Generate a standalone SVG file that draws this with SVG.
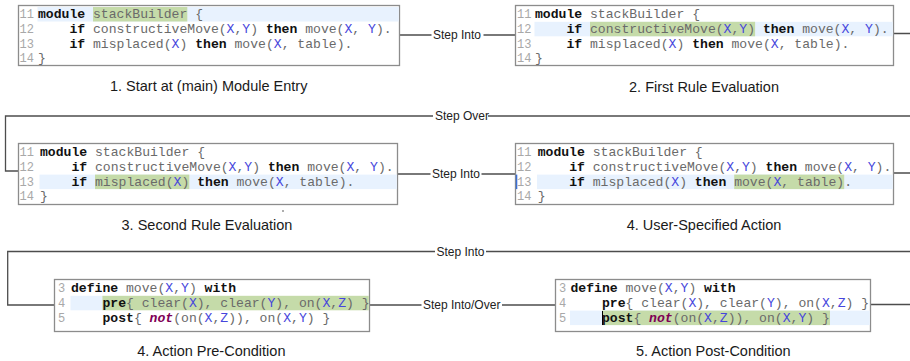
<svg xmlns="http://www.w3.org/2000/svg" width="910" height="361" viewBox="0 0 910 361">
<style>
.bg{fill:#fff}
.box{fill:#fff;stroke:#8c8c8c;stroke-width:1.3}
.code{font-family:"Liberation Mono","Courier New",monospace;font-size:13.1px;fill:#6a6a6a}
.k{font-weight:bold;fill:#111}
.v{fill:#4646dc}
.n{font-weight:bold;font-style:italic;fill:#7f0055}
.ln{fill:#a8a8a8;font-size:12px}
.cur{fill:#e8f2fe}
.sel{fill:#c5dba9}
.cap{font-family:"Liberation Sans",Arial,sans-serif;font-size:14.5px;fill:#1a1a1a;text-anchor:middle}
.lbl{font-family:"Liberation Sans",Arial,sans-serif;font-size:12px;fill:#222}
.conn{fill:none;stroke:#4d4d4d;stroke-width:1.3}
</style>
<rect class="bg" x="0" y="0" width="910" height="361"/>

<g id="connectors">
<path class="conn" d="M399.5,35 H431.5 M483.5,35 H515.5"/>
<text class="lbl" x="433" y="39">Step Into</text>
<path class="conn" d="M893.5,33.5 H915 V116 H488 M433,116 H5.5 V171 H18.5"/>
<text class="lbl" x="435" y="120">Step Over</text>
<path class="conn" d="M397.5,174 H430.5 M481.5,174 H515.5"/>
<text class="lbl" x="432" y="178">Step Into</text>
<path class="conn" d="M893.5,173 H915 V251.5 H486 M435,251.5 H7.7 V305 H54.5"/>
<text class="lbl" x="436.5" y="255.5">Step Into</text>
<path class="conn" d="M369.5,305 H421.5 M502,305 H555.5"/>
<text class="lbl" x="423" y="309">Step Into/Over</text>
<path class="conn" d="M870.5,304.5 H915"/>
</g>

<g id="node1">
<rect class="box" x="18.5" y="5.5" width="381" height="60"/>
<rect class="cur" x="37.5" y="7" width="361.3" height="14.5"/>
<rect class="sel" x="93" y="7" width="94.3" height="14.5"/>
<text class="code ln" x="19.5" y="18">11</text>
<text class="code ln" x="19.5" y="32.8">12</text>
<text class="code ln" x="19.5" y="47.6">13</text>
<text class="code ln" x="19.5" y="62.4">14</text>
<text class="code" x="38" y="18" xml:space="preserve"><tspan class="k">module</tspan> stackBuilder {</text>
<text class="code" x="38" y="32.8" xml:space="preserve">    <tspan class="k">if</tspan> constructiveMove(<tspan class="v">X</tspan>,<tspan class="v">Y</tspan>) <tspan class="k">then</tspan> move(<tspan class="v">X</tspan>, <tspan class="v">Y</tspan>).</text>
<text class="code" x="38" y="47.6" xml:space="preserve">    <tspan class="k">if</tspan> misplaced(<tspan class="v">X</tspan>) <tspan class="k">then</tspan> move(<tspan class="v">X</tspan>, table).</text>
<text class="code" x="38" y="62.4">}</text>
<text class="cap" x="208.7" y="91">1. Start at (main) Module Entry</text>
</g>

<g id="node2">
<rect class="box" x="515.5" y="5.5" width="378" height="60"/>
<rect class="cur" x="534.5" y="21.8" width="358.3" height="14.5"/>
<rect class="sel" x="590" y="21.8" width="165.1" height="14.5"/>
<text class="code ln" x="517" y="18">11</text>
<text class="code ln" x="517" y="32.8">12</text>
<text class="code ln" x="517" y="47.6">13</text>
<text class="code ln" x="517" y="62.4">14</text>
<text class="code" x="535" y="18" xml:space="preserve"><tspan class="k">module</tspan> stackBuilder {</text>
<text class="code" x="535" y="32.8" xml:space="preserve">    <tspan class="k">if</tspan> constructiveMove(<tspan class="v">X</tspan>,<tspan class="v">Y</tspan>) <tspan class="k">then</tspan> move(<tspan class="v">X</tspan>, <tspan class="v">Y</tspan>).</text>
<text class="code" x="535" y="47.6" xml:space="preserve">    <tspan class="k">if</tspan> misplaced(<tspan class="v">X</tspan>) <tspan class="k">then</tspan> move(<tspan class="v">X</tspan>, table).</text>
<text class="code" x="535" y="62.4">}</text>
<text class="cap" x="704" y="91.5">2. First Rule Evaluation</text>
</g>

<g id="node3">
<rect class="box" x="18.5" y="143.5" width="379" height="61"/>
<rect class="cur" x="39.5" y="174.6" width="357.3" height="14.5"/>
<rect class="sel" x="95" y="174.6" width="94.3" height="14.5"/>
<text class="code ln" x="19.5" y="156">11</text>
<text class="code ln" x="19.5" y="170.8">12</text>
<text class="code ln" x="19.5" y="185.6">13</text>
<text class="code ln" x="19.5" y="200.4">14</text>
<text class="code" x="40" y="156" xml:space="preserve"><tspan class="k">module</tspan> stackBuilder {</text>
<text class="code" x="40" y="170.8" xml:space="preserve">    <tspan class="k">if</tspan> constructiveMove(<tspan class="v">X</tspan>,<tspan class="v">Y</tspan>) <tspan class="k">then</tspan> move(<tspan class="v">X</tspan>, <tspan class="v">Y</tspan>).</text>
<text class="code" x="40" y="185.6" xml:space="preserve">    <tspan class="k">if</tspan> misplaced(<tspan class="v">X</tspan>) <tspan class="k">then</tspan> move(<tspan class="v">X</tspan>, table).</text>
<text class="code" x="40" y="200.4">}</text>
<circle cx="283" cy="211" r="0.8" fill="#444"/>
<text class="cap" x="207" y="229.5">3. Second Rule Evaluation</text>
</g>

<g id="node4">
<rect class="box" x="515.5" y="143.5" width="378" height="61"/>
<rect class="cur" x="537" y="174.6" width="355.8" height="14.5"/>
<rect class="sel" x="734.2" y="174.6" width="110" height="14.5"/>
<rect x="515.8" y="174.6" width="1.5" height="14.5" fill="#3a6fd6"/>
<text class="code ln" x="517" y="156">11</text>
<text class="code ln" x="517" y="170.8">12</text>
<text class="code ln" x="517" y="185.6">13</text>
<text class="code ln" x="517" y="200.4">14</text>
<text class="code" x="537.7" y="156" xml:space="preserve"><tspan class="k">module</tspan> stackBuilder {</text>
<text class="code" x="537.7" y="170.8" xml:space="preserve">    <tspan class="k">if</tspan> constructiveMove(<tspan class="v">X</tspan>,<tspan class="v">Y</tspan>) <tspan class="k">then</tspan> move(<tspan class="v">X</tspan>, <tspan class="v">Y</tspan>).</text>
<text class="code" x="537.7" y="185.6" xml:space="preserve">    <tspan class="k">if</tspan> misplaced(<tspan class="v">X</tspan>) <tspan class="k">then</tspan> move(<tspan class="v">X</tspan>, table).</text>
<text class="code" x="537.7" y="200.4">}</text>
<text class="cap" x="704" y="229.5">4. User-Specified Action</text>
</g>

<g id="node5">
<rect class="box" x="54.5" y="279.5" width="315" height="52"/>
<rect class="cur" x="70.5" y="295.8" width="32" height="14.5"/>
<rect class="sel" x="102.4" y="295.8" width="266.4" height="14.5"/>
<text class="code ln" x="58" y="292">3</text>
<text class="code ln" x="58" y="306.8">4</text>
<text class="code ln" x="58" y="321.6">5</text>
<text class="code" x="71" y="292" xml:space="preserve"><tspan class="k">define</tspan> move(<tspan class="v">X</tspan>,<tspan class="v">Y</tspan>) <tspan class="k">with</tspan></text>
<text class="code" x="71" y="306.8" xml:space="preserve">    <tspan class="k">pre</tspan>{ clear(<tspan class="v">X</tspan>), clear(<tspan class="v">Y</tspan>), on(<tspan class="v">X</tspan>,<tspan class="v">Z</tspan>) }</text>
<text class="code" x="71" y="321.6" xml:space="preserve">    <tspan class="k">post</tspan>{ <tspan class="n">not</tspan>(on(<tspan class="v">X</tspan>,<tspan class="v">Z</tspan>)), on(<tspan class="v">X</tspan>,<tspan class="v">Y</tspan>) }</text>
<text class="cap" x="211.3" y="355.5">4. Action Pre-Condition</text>
</g>

<g id="node6">
<rect class="box" x="555.5" y="279.5" width="315" height="52"/>
<rect class="cur" x="570" y="310.6" width="299.8" height="14.5"/>
<rect class="sel" x="602" y="310.6" width="228" height="14.5"/>
<line x1="602.5" y1="311" x2="602.5" y2="325" stroke="#000" stroke-width="1"/>
<text class="code ln" x="559" y="292">3</text>
<text class="code ln" x="559" y="306.8">4</text>
<text class="code ln" x="559" y="321.6">5</text>
<text class="code" x="570.5" y="292" xml:space="preserve"><tspan class="k">define</tspan> move(<tspan class="v">X</tspan>,<tspan class="v">Y</tspan>) <tspan class="k">with</tspan></text>
<text class="code" x="570.5" y="306.8" xml:space="preserve">    <tspan class="k">pre</tspan>{ clear(<tspan class="v">X</tspan>), clear(<tspan class="v">Y</tspan>), on(<tspan class="v">X</tspan>,<tspan class="v">Z</tspan>) }</text>
<text class="code" x="570.5" y="321.6" xml:space="preserve">    <tspan class="k">post</tspan>{ <tspan class="n">not</tspan>(on(<tspan class="v">X</tspan>,<tspan class="v">Z</tspan>)), on(<tspan class="v">X</tspan>,<tspan class="v">Y</tspan>) }</text>
<text class="cap" x="713.3" y="356">5. Action Post-Condition</text>
</g>
</svg>
